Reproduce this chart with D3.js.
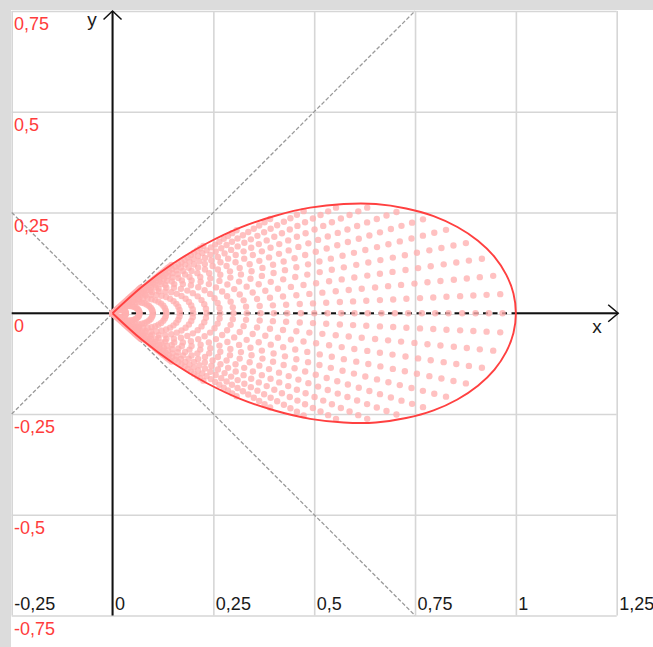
<!DOCTYPE html>
<html>
<head>
<meta charset="utf-8">
<script src="https://cdn.jsdelivr.net/npm/d3@7.9.0/dist/d3.min.js"></script>
<style>
  html, body { margin: 0; padding: 0; background: #dcdcdc; }
  svg { display: block; }
  text { font-family: Arial, "Liberation Sans", sans-serif; }
</style>
</head>
<body>
<svg id="chart" width="653" height="647"></svg>
<script>
const xTicks = [-0.25, 0, 0.25, 0.5, 0.75, 1, 1.25];
const xTickLabels = ['-0,25', '0', '0,25', '0,5', '0,75', '1', '1,25'];
const yTicks = [0.75, 0.5, 0.25, 0, -0.25, -0.5, -0.75];
const yTickLabels = ['0,75', '0,5', '0,25', '0', '-0,25', '-0,5', '-0,75'];

// upper half of the red outline (from the origin out to x = 1)
const petalX = [0, 0.073, 0.151, 0.233, 0.318, 0.404, 0.49, 0.573, 0.653, 0.728, 0.796, 0.855, 0.906, 0.947, 0.976, 0.994, 1];
const petalY = [0, 0.066, 0.124, 0.173, 0.213, 0.242, 0.262, 0.271, 0.271, 0.26, 0.241, 0.214, 0.18, 0.14, 0.096, 0.049, 0];

// scale of each ring of dots (fraction of the outline)
const dotScale = [0.033, 0.067, 0.1, 0.133, 0.167, 0.2, 0.233, 0.267, 0.3, 0.333, 0.367, 0.4, 0.433, 0.467, 0.5,
  0.533, 0.567, 0.6, 0.633, 0.667, 0.7, 0.733, 0.767, 0.8, 0.833, 0.867, 0.9, 0.933, 0.967];

// the two dashed helper lines y = x and y = -x
const guideLines = [
  [[-0.25, -0.25], [0.75, 0.75]],
  [[-0.25, 0.25], [0.75, -0.75]]
];

const svg = d3.select('#chart');
const x = d3.scaleLinear().domain([-0.25, 1.25]).range([11.7, 616.7]);
const y = d3.scaleLinear().domain([0.75, -0.75]).range([11, 615.5]);

svg.append('rect')
  .attr('x', 11).attr('y', 10)
  .attr('width', 653).attr('height', 647)
  .attr('fill', '#fff');

// grid
let gx = svg.append('g')
  .attr('transform', `translate(0,${y(-0.75)})`)
  .call(d3.axisBottom(x).tickValues(xTicks).tickSize(-(y(-0.75) - y(0.75))).tickFormat(''));
let gy = svg.append('g')
  .attr('transform', `translate(${x(-0.25)},0)`)
  .call(d3.axisLeft(y).tickValues(yTicks).tickSize(-(x(1.25) - x(-0.25))).tickFormat(''));
[gx, gy].forEach(g => {
  g.select('.domain').remove();
  g.selectAll('line').attr('stroke', '#d6d6d6').attr('stroke-width', 1.6);
});

// helper diagonals
guideLines.forEach(seg => {
  svg.append('line')
    .attr('x1', x(seg[0][0])).attr('y1', y(seg[0][1]))
    .attr('x2', x(seg[1][0])).attr('y2', y(seg[1][1]))
    .attr('stroke', '#9a9a9a')
    .attr('stroke-width', 1.3)
    .attr('stroke-dasharray', '4,2');
});

// axes
svg.append('line')
  .attr('x1', x(-0.25)).attr('y1', y(0))
  .attr('x2', x(1.25) + 1.5).attr('y2', y(0))
  .attr('stroke', '#111').attr('stroke-width', 2);
svg.append('line')
  .attr('x1', x(0)).attr('y1', y(-0.75))
  .attr('x2', x(0)).attr('y2', y(0.75))
  .attr('stroke', '#111').attr('stroke-width', 2);

// dashed part of the x axis inside the outline
svg.append('line')
  .attr('x1', x(0) + 1).attr('y1', y(0))
  .attr('x2', x(1)).attr('y2', y(0))
  .attr('stroke', '#fff').attr('stroke-width', 2.4);
svg.append('line')
  .attr('x1', x(0)).attr('y1', y(0))
  .attr('x2', x(1)).attr('y2', y(0))
  .attr('stroke', '#111').attr('stroke-width', 2)
  .attr('stroke-dasharray', '5,4.5');

// outline: origin -> lower half -> (1,0) -> upper half -> origin
let upper = petalX.map((px, i) => [px, petalY[i]]);
let lower = upper.map(p => [p[0], -p[1]]);
let outline = lower.concat(upper.slice(0, -1).reverse());

// dots: every ring is the outline scaled down
let dots = [];
lower.concat(upper.slice(1, -1)).forEach(p => {
  dotScale.forEach(s => dots.push([p[0] * s, p[1] * s]));
});
svg.append('g')
  .selectAll('circle')
  .data(dots)
  .join('circle')
  .attr('cx', d => x(d[0]))
  .attr('cy', d => y(d[1]))
  .attr('r', 3.2)
  .attr('fill', '#ffb0b0')
  .attr('fill-opacity', 0.78);

let line = d3.line()
  .x(d => x(d[0]))
  .y(d => y(d[1]))
  .curve(d3.curveCatmullRom.alpha(0.5));
svg.append('path')
  .attr('d', line(outline))
  .attr('fill', 'none')
  .attr('stroke', '#ff4040')
  .attr('stroke-width', 1.9);

// arrow heads
svg.append('path')
  .attr('d', `M${x(0) - 9},${y(0.75) + 8.5}L${x(0)},${y(0.75)}L${x(0) + 9},${y(0.75) + 8.5}`)
  .attr('fill', 'none').attr('stroke', '#111').attr('stroke-width', 1.5);
svg.append('path')
  .attr('d', `M${x(1.25) - 8.5},${y(0) - 8.5}L${x(1.25) + 1.5},${y(0)}L${x(1.25) - 8.5},${y(0) + 8.5}`)
  .attr('fill', 'none').attr('stroke', '#111').attr('stroke-width', 1.5);

// tick labels
svg.append('g')
  .selectAll('text')
  .data(xTicks)
  .join('text')
  .attr('x', d => x(d) + 2.5)
  .attr('y', y(-0.75) - 5.5)
  .attr('font-size', 18)
  .attr('fill', '#1a1a1a')
  .text((d, i) => xTickLabels[i]);
svg.append('g')
  .selectAll('text')
  .data(yTicks)
  .join('text')
  .attr('x', 14)
  .attr('y', d => y(d) + 19)
  .attr('font-size', 18)
  .attr('fill', '#ff3c3c')
  .text((d, i) => yTickLabels[i]);

// axis names
svg.append('text').attr('x', 92).attr('y', 26).attr('text-anchor', 'middle')
  .attr('font-size', 19).attr('fill', '#1a1a1a').text('y');
svg.append('text').attr('x', 597).attr('y', 333).attr('text-anchor', 'middle')
  .attr('font-size', 19).attr('fill', '#1a1a1a').text('x');
</script>
</body>
</html>
